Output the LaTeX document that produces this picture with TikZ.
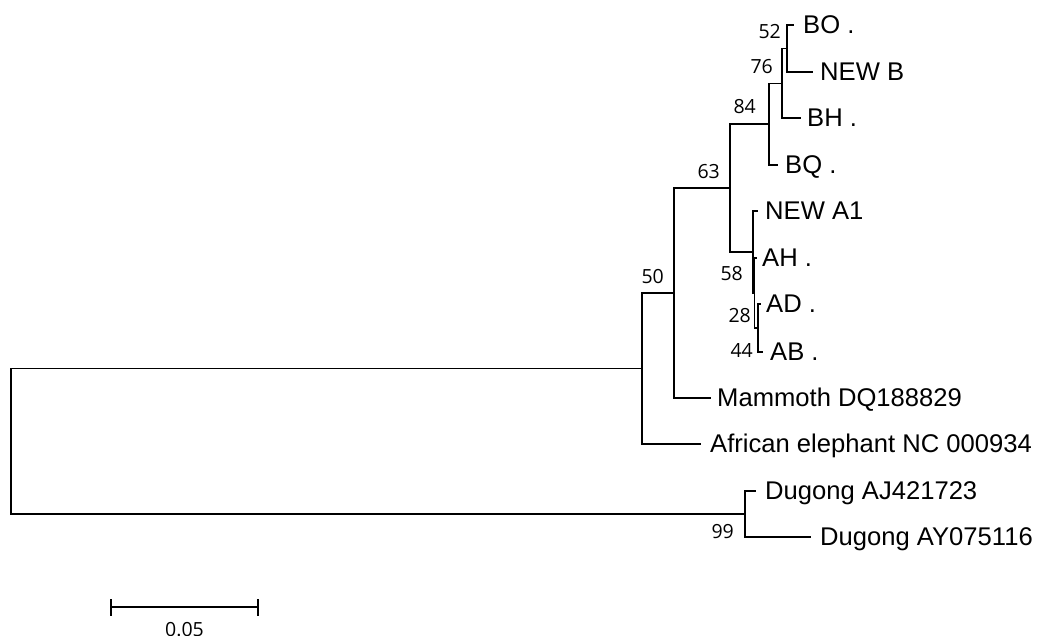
\documentclass[tikz,border=0pt]{standalone}
\usepackage{fontspec}
\setmainfont{Liberation Sans}
\newfontfamily\bsfont{Open Sans}
\tikzset{
  branch/.style={line width=1.4pt, line cap=rect},
  taxon/.style={anchor=base west, inner sep=0pt, font=\fontsize{25.6}{30}\selectfont},
  boot/.style={anchor=base east, inner sep=0pt, font=\bsfont\fontsize{19.5}{23}\selectfont},
  scalebar/.style={line width=1.8pt}
}
\begin{document}
\begin{tikzpicture}[x=1pt,y=-1pt]
\useasboundingbox (0,0) rectangle (1038,635);

% internal nodes of the tree
\coordinate (root) at (11,441.5);
\coordinate (nE)   at (642,368.5);
\coordinate (n50)  at (674,293);
\coordinate (n63)  at (730,188);
\coordinate (n84)  at (769,124);
\coordinate (n76)  at (782,83.25);
\coordinate (n52)  at (787,48.5);
\coordinate (nA)   at (753,252);
\coordinate (n58)  at (754.5,293);
\coordinate (n28)  at (758,328);
\coordinate (nD)   at (745,514);

% branch tips
\coordinate (tBO) at (793,25);
\coordinate (tNB) at (812,72);
\coordinate (tBH) at (800,118);
\coordinate (tBQ) at (777,165);
\coordinate (tA1) at (757,211);
\coordinate (tAH) at (756,258);
\coordinate (tAD) at (760,304);
\coordinate (tAB) at (762,352);
\coordinate (tMa) at (710,398);
\coordinate (tAf) at (700,444);
\coordinate (tDJ) at (755,491);
\coordinate (tDY) at (810,537);

% branches
\draw[branch] (root) |- (nE);
\draw[branch] (root) |- (nD);
\draw[branch] (nE) |- (n50);
\draw[branch] (nE) |- (tAf);
\draw[branch] (n50) |- (n63);
\draw[branch] (n50) |- (tMa);
\draw[branch] (n63) |- (n84);
\draw[branch] (n63) |- (nA);
\draw[branch] (n84) |- (n76);
\draw[branch] (n84) |- (tBQ);
\draw[branch] (n76) |- (n52);
\draw[branch] (n76) |- (tBH);
\draw[branch] (n52) |- (tBO);
\draw[branch] (n52) |- (tNB);
\draw[branch] (nA) |- (tA1);
\draw[branch] (nA) |- (n58);
\draw[branch] (n58) |- (tAH);
\draw[branch] (n58) |- (n28);
\draw[branch] (n28) |- (tAD);
\draw[branch] (n28) |- (tAB);
\draw[branch] (nD) |- (tDJ);
\draw[branch] (nD) |- (tDY);

% taxon names
\node[taxon] (lBO) at (803,33)  {BO .};
\node[taxon] (lNB) at (820,80)  {NEW B};
\node[taxon] (lBH) at (807,126) {BH .};
\node[taxon] (lBQ) at (785,173) {BQ .};
\node[taxon] (lA1) at (765,219) {NEW A1};
\node[taxon] (lAH) at (762,266) {AH .};
\node[taxon] (lAD) at (766,312) {AD .};
\node[taxon] (lAB) at (770,360) {AB .};
\node[taxon] (lMa) at (717,406) {Mammoth DQ188829};
\node[taxon] (lAf) at (710,452) {African elephant NC 000934};
\node[taxon] (lDJ) at (765,499) {Dugong AJ421723};
\node[taxon] (lDY) at (820,545) {Dugong AY075116};

% bootstrap support values
\node[boot] (b52) at (781,38)  {52};
\node[boot] (b76) at (773,73)  {76};
\node[boot] (b84) at (756,113) {84};
\node[boot] (b63) at (720,178) {63};
\node[boot] (b50) at (664,283) {50};
\node[boot] (b58) at (743,280) {58};
\node[boot] (b28) at (751,322) {28};
\node[boot] (b44) at (753,357) {44};
\node[boot] (b99) at (734,538) {99};

% scale bar
\coordinate (sbL) at (111,607);
\coordinate (sbR) at (258,607);
\draw[scalebar] (sbL) -- (sbR);
\draw[scalebar] ([yshift=-8.5pt]sbL) -- ([yshift=8.5pt]sbL);
\draw[scalebar] ([yshift=-8.5pt]sbR) -- ([yshift=8.5pt]sbR);
\node[boot, anchor=base] (sbT) at (184.5,636) {0.05};
\end{tikzpicture}
\end{document}
